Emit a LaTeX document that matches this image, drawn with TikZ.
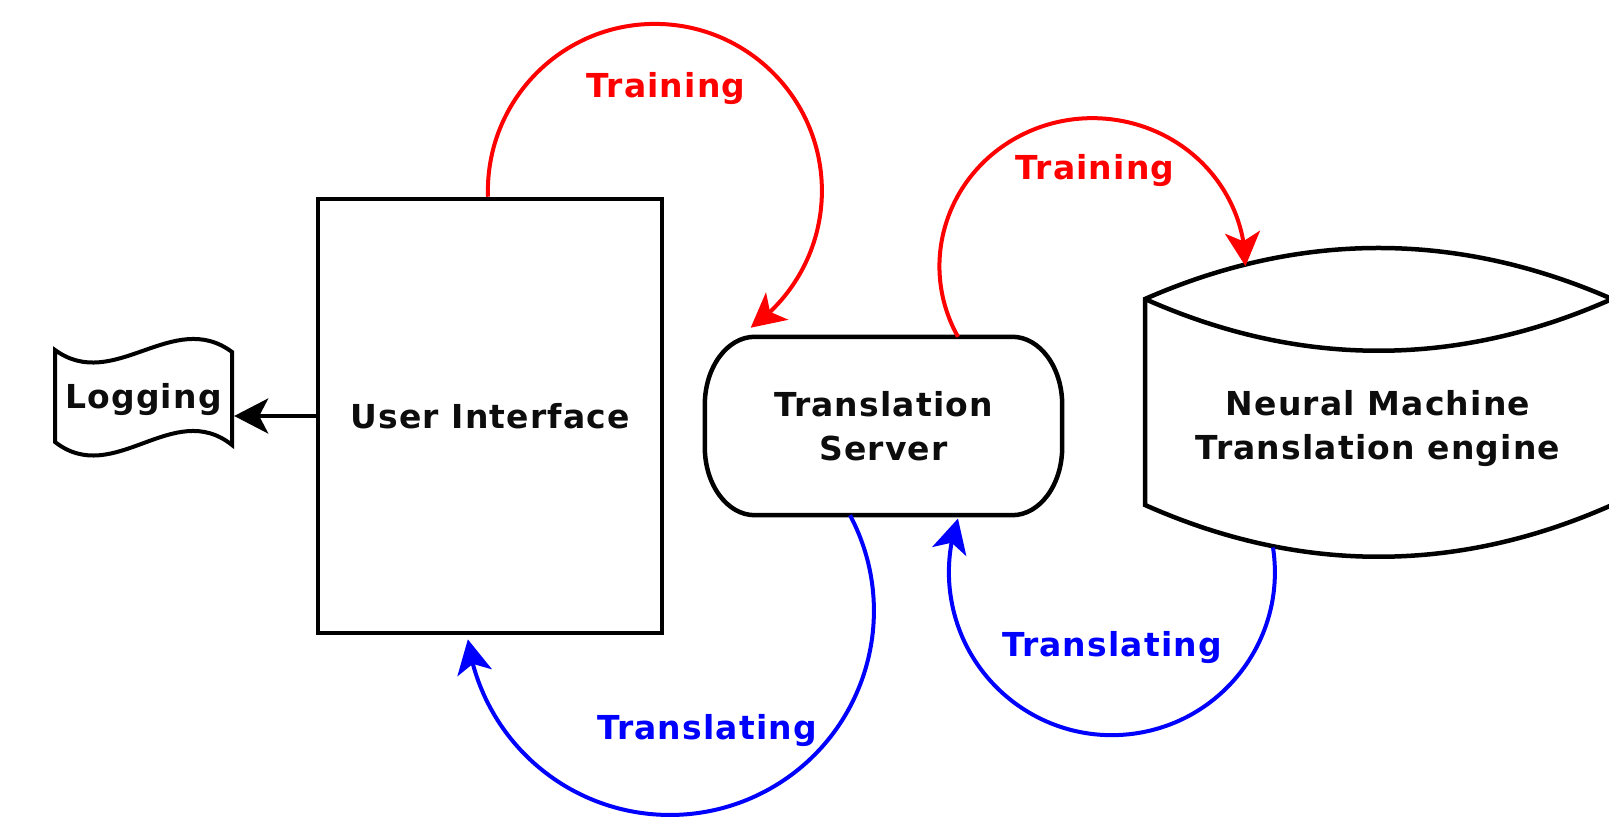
\documentclass[tikz,border=0pt]{standalone}
\usepackage{fontspec}
\setmainfont{DejaVu Sans}[LetterSpace=3.5]
\usetikzlibrary{arrows.meta,bending,calc}
\tikzset{
  lbl/.style={font=\fontsize{33}{44}\selectfont\bfseries, inner sep=0pt, text=black!95},
  boxline/.style={draw=black, line width=4.5pt},
  logline/.style={draw=black, line width=4pt, line join=miter},
  tipshape/.style={-{Stealth[length=34pt,width=35pt,inset=9pt]}},
  blkarrow/.style={draw=black, line width=4pt, tipshape},
  redarc/.style={draw=red, line width=4pt, tipshape},
  bluearc/.style={draw=blue, line width=4pt, tipshape},
}
\begin{document}
\begin{tikzpicture}[x=1pt,y=1pt]
\useasboundingbox (0,0) rectangle (1609,819);

% User Interface
\node[boxline, lbl, minimum width=344pt, minimum height=434pt] (ui) at (490,403) {User Interface};

% Logging
\node[lbl, minimum width=181pt, minimum height=96pt] (log) at (143.5,419) {Logging};
\draw[logline] (55,469) .. controls (114,426) and (173,511) .. (232,467)
  -- (232,374) .. controls (173,421) and (114,331) .. (55,377) -- cycle;
\draw[blkarrow] (ui.west) -- (ui.west -| log.east);

% Translation Server
\node[lbl, align=center, minimum width=357pt, minimum height=178pt] (ts) at (883.5,393) {Translation\\Server};
\draw[boxline] ([xshift=50pt]ts.north west) -- ([xshift=-50pt]ts.north east)
  arc[start angle=90, end angle=0, x radius=50pt, y radius=68pt]
  -- ([yshift=68pt]ts.south east)
  arc[start angle=0, end angle=-90, x radius=50pt, y radius=68pt]
  -- ([xshift=50pt]ts.south west)
  arc[start angle=270, end angle=180, x radius=50pt, y radius=68pt]
  -- ([yshift=-68pt]ts.north west)
  arc[start angle=180, end angle=90, x radius=50pt, y radius=68pt] -- cycle;

% Neural Machine Translation engine
\draw[boxline] (1145,520) .. controls (1300,588) and (1457,588) .. (1612,520)
  -- (1612,314) .. controls (1457,245) and (1300,245) .. (1145,314) -- cycle;
\draw[boxline] (1145,520) .. controls (1300,451) and (1457,451) .. (1612,520);
\node[lbl, align=center] (nmt) at (1378,390.5) {Neural Machine\\Translation engine};

% connectors
\coordinate (r1s) at ([xshift=-2pt]ui.north);
\draw[redarc] (r1s) arc[start angle=182, end angle=-55, radius=167pt];
\node[lbl, text=red, anchor=base] (tr1) at (666,721) {Training};

\coordinate (r2s) at ([xshift=74.5pt]ts.north);
\draw[redarc] (r2s) arc[start angle=208.5, end angle=0, x radius=153pt, y radius=148pt];
\node[lbl, text=red, anchor=base] (tr2) at (1095,639) {Training};

\coordinate (b1s) at ([xshift=-33.5pt]ts.south);
\draw[bluearc] (b1s) arc[start angle=28, end angle=-172, radius=204pt];
\node[lbl, text=blue, anchor=base] (tl1) at (707,79) {Translating};

\coordinate (b2s) at (1273,271.5);
\draw[bluearc] (b2s) arc[start angle=8.7, end angle=-199.2, radius=163pt];
\node[lbl, text=blue, anchor=base] (tl2) at (1112,162) {Translating};
\end{tikzpicture}
\end{document}
